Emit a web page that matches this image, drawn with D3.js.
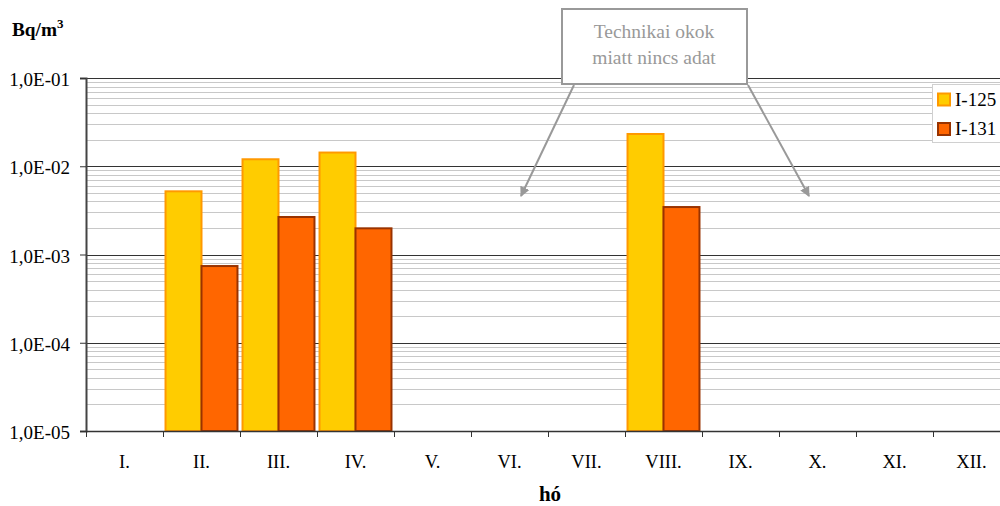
<!DOCTYPE html>
<html>
<head>
<meta charset="utf-8">
<script src="https://cdn.jsdelivr.net/npm/d3@7/dist/d3.min.js"></script>
<style>
  html, body { margin: 0; padding: 0; background: #fff; }
  svg { display: block; }
</style>
</head>
<body>
<svg id="chart" width="1000" height="506"></svg>
<script>
// Monthly activity concentrations (Bq/m3); null = no measurement
const months = ["I.", "II.", "III.", "IV.", "V.", "VI.", "VII.", "VIII.", "IX.", "X.", "XI.", "XII."];
const seriesNames = ["I-125", "I-131"];
const i125 = [null, 5.2e-3, 1.2e-2, 1.43e-2, null, null, null, 2.32e-2, null, null, null, null];
const i131 = [null, 7.4e-4, 2.66e-3, 1.98e-3, null, null, null, 3.45e-3, null, null, null, null];
const yTicks = [1e-5, 1e-4, 1e-3, 1e-2, 1e-1];
const yTickLabels = ["1,0E-05", "1,0E-04", "1,0E-03", "1,0E-02", "1,0E-01"];

const fills = ["#FFCC00", "#FF6600"];
const strokes = ["#FF9900", "#993300"];
const FONT = '"Liberation Serif", "Times New Roman", serif';

const svg = d3.select("#chart");
const m = { left: 86, top: 78, right: -10, bottom: 75 };
const W = 1000, H = 506;
const x0 = m.left, x1 = W - m.right;
const yTop = m.top, yBot = H - m.bottom;

const x = d3.scaleBand().domain(months).range([x0, x1]).paddingInner(0).paddingOuter(0);
const xs = d3.scaleBand().domain(seriesNames).range([0, x.bandwidth()]).paddingInner(0).paddingOuter(0.07);
const y = d3.scaleLog().domain([1e-5, 1e-1]).range([yBot, yTop]);

// minor grid lines (2..9 within each decade)
const minor = [];
for (let e = -5; e < -1; e++) for (let k = 2; k <= 9; k++) minor.push(k * Math.pow(10, e));
svg.append("g").selectAll("line").data(minor).join("line")
  .attr("x1", x0).attr("x2", x1)
  .attr("y1", d => Math.round(y(d)) + 0.5).attr("y2", d => Math.round(y(d)) + 0.5)
  .attr("stroke", "#c8c8c8").attr("stroke-width", 1);

// major grid lines
svg.append("g").selectAll("line").data(yTicks.slice(1)).join("line")
  .attr("x1", x0).attr("x2", x1)
  .attr("y1", d => Math.round(y(d)) + 0.5).attr("y2", d => Math.round(y(d)) + 0.5)
  .attr("stroke", "#333").attr("stroke-width", 1.2);

// bars
const data = [i125, i131];
data.forEach((vals, si) => {
  svg.append("g").selectAll("rect")
    .data(months.map((mo, i) => ({ mo, v: vals[i] })).filter(d => d.v != null))
    .join("rect")
    .attr("x", d => x(d.mo) + xs(seriesNames[si]))
    .attr("width", xs.bandwidth())
    .attr("y", d => y(d.v))
    .attr("height", d => yBot - y(d.v))
    .attr("fill", fills[si])
    .attr("stroke", strokes[si])
    .attr("stroke-width", 2);
});

// y axis
const yAxis = d3.axisLeft(y).tickValues(yTicks).tickFormat((d, i) => yTickLabels[i]).tickSize(6).tickPadding(10);
const gy = svg.append("g").attr("transform", `translate(${x0},0)`).call(yAxis);
gy.select(".domain").attr("stroke", "#444").attr("stroke-width", 2);
gy.selectAll(".tick line").attr("stroke", "#333");
gy.selectAll(".tick text").attr("font-size", 19).attr("fill", "#000").attr("dy", "0.4em");

// x axis
const xAxis = d3.axisBottom(x).tickSize(0).tickPadding(24);
const gx = svg.append("g").attr("transform", `translate(0,${yBot})`).call(xAxis);
gx.select(".domain").attr("stroke", "#333").attr("stroke-width", 1.5);
gx.selectAll(".tick text").attr("font-size", 18.5).attr("fill", "#000");
// category separator ticks
const seps = months.map(mo => x(mo)).concat([x1]);
svg.append("g").selectAll("line").data(seps).join("line")
  .attr("x1", d => d + 0.5).attr("x2", d => d + 0.5)
  .attr("y1", yBot).attr("y2", yBot + 6)
  .attr("stroke", "#333").attr("stroke-width", 1);

// axis titles
const yt = svg.append("text").attr("x", 12).attr("y", 36)
  .attr("font-size", 19.3).attr("font-weight", "bold").attr("fill", "#000");
yt.append("tspan").text("Bq/m");
yt.append("tspan").text("3").attr("font-size", 13).attr("dy", -8);
svg.append("text").attr("x", 550).attr("y", 501).attr("text-anchor", "middle")
  .attr("font-size", 21).attr("font-weight", "bold").attr("fill", "#000").text("hó");

// legend
const lg = svg.append("g").attr("transform", "translate(932,84)");
lg.append("rect").attr("x", 0.5).attr("y", 0.5).attr("width", 80).attr("height", 58)
  .attr("fill", "#fff").attr("stroke", "#d0d0d0");
seriesNames.forEach((s, i) => {
  lg.append("rect").attr("x", 6).attr("y", 9.5 + i * 29.5).attr("width", 12).attr("height", 12)
    .attr("fill", fills[i]).attr("stroke", strokes[i]).attr("stroke-width", 2);
  lg.append("text").attr("x", 23).attr("y", 22 + i * 29).attr("font-size", 19).attr("fill", "#000").text(s);
});

// annotation callout with arrows
const ann = svg.append("g");
ann.append("rect").attr("x", 562).attr("y", 9).attr("width", 185).attr("height", 75)
  .attr("fill", "#fff").attr("stroke", "#999").attr("stroke-width", 2);
ann.append("text").attr("x", 654).attr("y", 37.5).attr("text-anchor", "middle")
  .attr("font-size", 19.5).attr("fill", "#999").text("Technikai okok");
ann.append("text").attr("x", 654).attr("y", 63.5).attr("text-anchor", "middle")
  .attr("font-size", 19.5).attr("fill", "#999").text("miatt nincs adat");

svg.append("defs").append("marker").attr("id", "arr")
  .attr("viewBox", "0 0 10 10").attr("refX", 9).attr("refY", 5)
  .attr("markerWidth", 5).attr("markerHeight", 5).attr("orient", "auto")
  .append("path").attr("d", "M0,0 L10,5 L0,10 Z").attr("fill", "#999");
[[574, 85, 521, 196], [748, 85, 809, 196]].forEach(([a, b, c, d]) => {
  ann.append("line").attr("x1", a).attr("y1", b).attr("x2", c).attr("y2", d)
    .attr("stroke", "#999").attr("stroke-width", 2).attr("marker-end", "url(#arr)");
});

// serif type throughout
svg.selectAll("g").attr("font-family", null);
svg.selectAll("text").style("font-family", FONT);
</script>
</body>
</html>
